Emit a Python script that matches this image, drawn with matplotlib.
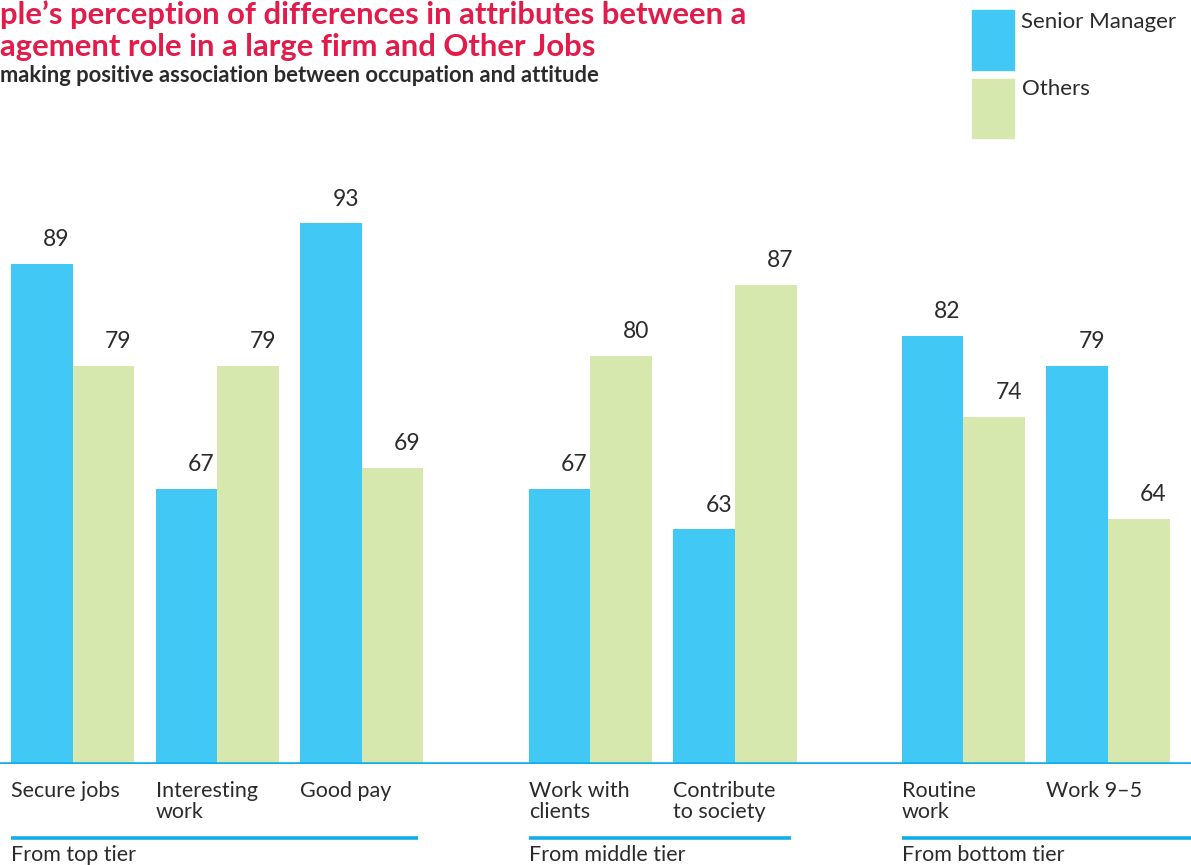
import numpy as np
import matplotlib.pyplot as plt
from matplotlib.patches import Rectangle

# survey results, % making positive association
categories = ['Secure jobs', 'Interesting\nwork', 'Good pay',
              'Work with\nclients', 'Contribute\nto society',
              'Routine\nwork', 'Work 9\u20135']
senior = [89, 67, 93, 67, 63, 82, 79]
others = [79, 79, 69, 80, 87, 74, 64]
tiers = ['From top tier', 'From middle tier', 'From bottom tier']
tier_sizes = [3, 2, 2]

BLUE = '#42c8f4'
GREEN = '#d6e8ae'
LINE = '#12aee8'
RED = '#e31b4b'
TEXT = '#2b2b2b'

plt.rcParams['font.family'] = ['Lato', 'DejaVu Sans']

# bar positions: unit pitch inside a tier, extra gap between tiers
gap = 0.58
pos = []
x = 0.0
for k, n in enumerate(tier_sizes):
    for i in range(n):
        pos.append(x)
        x += 1
    x += gap
pos = np.array(pos)
w = 0.426

fig = plt.figure(figsize=(11.91, 8.65), dpi=100)
ax = fig.add_axes([0, 101/865, 1, 612/865])
ax.set_xlim(-0.076, 8.16)
ax.set_ylim(40, 100)
ax.axis('off')

ax.bar(pos, np.array(senior) - 40, width=w, bottom=40, align='edge', color=BLUE)
ax.bar(pos + w, np.array(others) - 40, width=w, bottom=40, align='edge', color=GREEN)

for p, v in zip(pos, senior):
    ax.annotate(str(v), (p + w, v), xytext=(-2, 10), textcoords='offset points',
                ha='right', va='bottom', fontsize=16.5, color=TEXT)
for p, v in zip(pos, others):
    ax.annotate(str(v), (p + 2 * w, v), xytext=(-2, 10), textcoords='offset points',
                ha='right', va='bottom', fontsize=16.5, color=TEXT)

# baseline across the whole width
ax.axhline(40, color=LINE, lw=2.6, zorder=3)

for p, lab in zip(pos, categories):
    ax.annotate(lab, (p, 40), xytext=(0, -12), textcoords='offset points',
                ha='left', va='top', fontsize=15.5, color=TEXT, linespacing=1.1,
                annotation_clip=False)

# tier underlines and names
trans = ax.get_xaxis_transform()
start = 0
for k, (name, n) in enumerate(zip(tiers, tier_sizes)):
    x0 = pos[start]
    x1 = pos[start + n - 1] + 2 * w - 0.04
    if k == len(tiers) - 1:
        x1 = ax.get_xlim()[1]
    y_line = -(836 - 762) / 612
    ax.plot([x0, x1], [y_line, y_line], transform=trans, color=LINE, lw=2.6,
            clip_on=False, solid_capstyle='butt')
    ax.text(x0, -(863 - 762) / 612, name, transform=trans, ha='left',
            va='bottom', fontsize=15.5, color=TEXT)
    start += n

# title block
fig.text(0, 1 - 24/865, "ple\u2019s perception of differences in attributes between a",
         ha='left', va='baseline', fontsize=22.3, fontweight='bold', color=RED)
fig.text(0, 1 - 56/865, "agement role in a large firm and Other Jobs",
         ha='left', va='baseline', fontsize=22.3, fontweight='bold', color=RED)
fig.text(0, 1 - 82/865, "making positive association between occupation and attitude",
         ha='left', va='baseline', fontsize=15.8, fontweight='bold', color=TEXT)

# legend swatches
fig.patches.append(Rectangle((972/1191, 1 - 70/865), 42/1191, 60/865,
                             transform=fig.transFigure, color=BLUE))
fig.patches.append(Rectangle((972/1191, 1 - 138/865), 42/1191, 59/865,
                             transform=fig.transFigure, color=GREEN))
fig.text(1021/1191, 1 - 28/865, 'Senior Manager', ha='left', va='baseline',
         fontsize=16, color=TEXT)
fig.text(1022/1191, 1 - 95/865, 'Others', ha='left', va='baseline',
         fontsize=16, color=TEXT)

fig.savefig('out.png', dpi=100)
